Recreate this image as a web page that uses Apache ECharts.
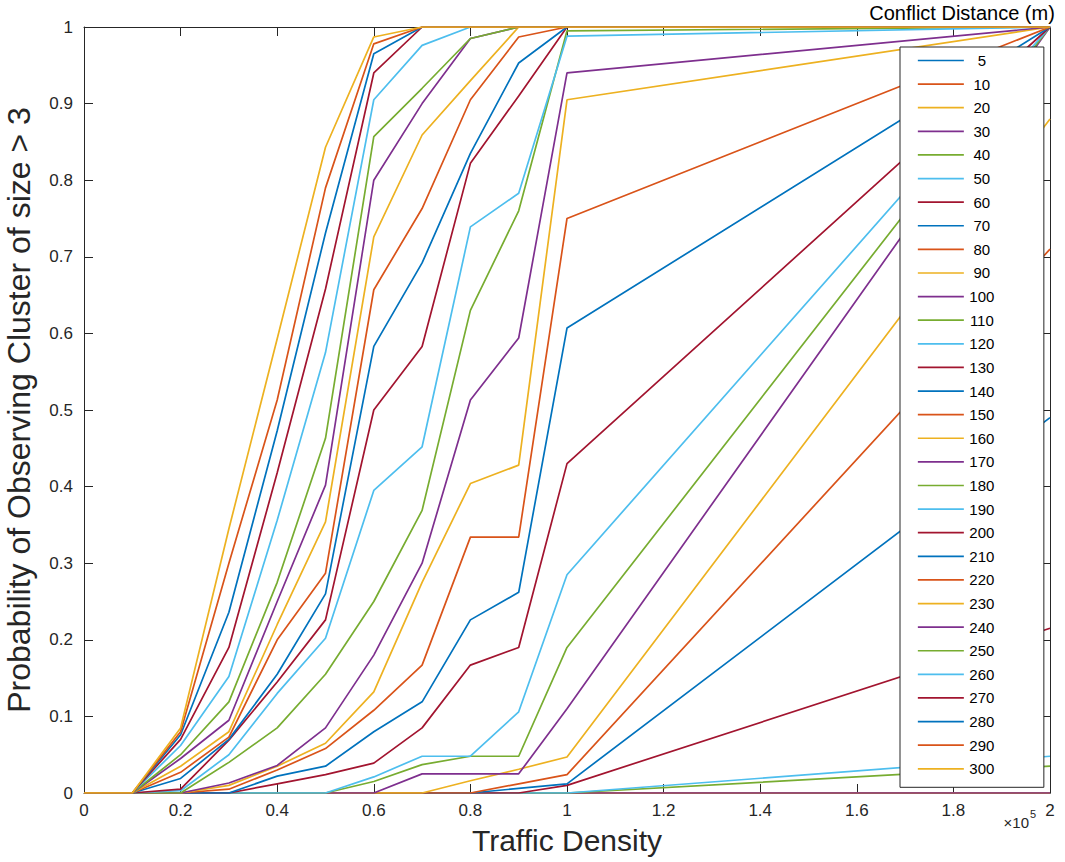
<!DOCTYPE html>
<html>
<head>
<meta charset="utf-8">
<script src="https://cdn.jsdelivr.net/npm/echarts@6/dist/echarts.min.js"></script>
<style>
  html, body { margin: 0; padding: 0; background: #fff; }
  #chart { width: 1065px; height: 862px; }
</style>
</head>
<body>
<div id="chart"></div>
<script>
// Traffic density sample points (in units of 1e5)
const trafficDensity = [0, 0.1, 0.2, 0.3, 0.4, 0.5, 0.6, 0.7, 0.8, 0.9, 1.0, 2.0];

// Conflict distances (m), one curve each
const conflictDistances = [5, 10, 20, 30, 40, 50, 60, 70, 80, 90, 100, 110, 120, 130, 140, 150,
  160, 170, 180, 190, 200, 210, 220, 230, 240, 250, 260, 270, 280, 290, 300];

// Probability of observing a cluster of size > 3, per conflict distance
const p5   = [0, 0, 0, 0, 0, 0, 0, 0, 0, 0, 0, 0];
const p10  = [0, 0, 0, 0, 0, 0, 0, 0, 0, 0, 0, 0];
const p20  = [0, 0, 0, 0, 0, 0, 0, 0, 0, 0, 0, 0];
const p30  = [0, 0, 0, 0, 0, 0, 0, 0, 0, 0, 0, 0];
const p40  = [0, 0, 0, 0, 0, 0, 0, 0, 0, 0, 0, 0.035];
const p50  = [0, 0, 0, 0, 0, 0, 0, 0, 0, 0, 0, 0.048];
const p60  = [0, 0, 0, 0, 0, 0, 0, 0, 0, 0, 0.01, 0.215];
const p70  = [0, 0, 0, 0, 0, 0, 0, 0, 0, 0.006, 0.012, 0.49];
const p80  = [0, 0, 0, 0, 0, 0, 0, 0, 0, 0.012, 0.024, 0.71];
const p90  = [0, 0, 0, 0, 0, 0, 0, 0, 0.016, 0.031, 0.047, 0.88];
const p100 = [0, 0, 0, 0, 0, 0, 0, 0.025, 0.025, 0.025, 0.11, 1];
const p110 = [0, 0, 0, 0, 0, 0, 0.015, 0.037, 0.048, 0.048, 0.19, 1];
const p120 = [0, 0, 0, 0, 0, 0, 0.021, 0.048, 0.048, 0.106, 0.285, 1];
const p130 = [0, 0, 0, 0, 0.012, 0.024, 0.039, 0.085, 0.167, 0.19, 0.43, 1];
const p140 = [0, 0, 0, 0, 0.022, 0.035, 0.08, 0.119, 0.226, 0.262, 0.607, 1];
const p150 = [0, 0, 0, 0.005, 0.03, 0.058, 0.108, 0.167, 0.334, 0.334, 0.75, 1];
const p160 = [0, 0, 0, 0.01, 0.035, 0.065, 0.132, 0.275, 0.404, 0.428, 0.905, 1];
const p170 = [0, 0, 0, 0.013, 0.036, 0.085, 0.18, 0.30, 0.513, 0.594, 0.94, 1];
const p180 = [0, 0, 0, 0.04, 0.085, 0.155, 0.25, 0.369, 0.63, 0.76, 0.995, 1];
const p190 = [0, 0, 0.003, 0.05, 0.13, 0.202, 0.395, 0.452, 0.739, 0.783, 0.988, 1];
const p200 = [0, 0, 0.005, 0.069, 0.145, 0.226, 0.5, 0.583, 0.822, 0.91, 1, 1];
const p210 = [0, 0, 0.019, 0.07, 0.155, 0.26, 0.583, 0.692, 0.835, 0.953, 1, 1];
const p220 = [0, 0, 0.027, 0.073, 0.2, 0.287, 0.657, 0.763, 0.905, 0.987, 1, 1];
const p230 = [0, 0, 0.035, 0.08, 0.22, 0.354, 0.726, 0.859, 0.93, 1, 1, 1];
const p240 = [0, 0, 0.045, 0.095, 0.25, 0.402, 0.80, 0.90, 0.985, 1, 1, 1];
const p250 = [0, 0, 0.05, 0.119, 0.275, 0.463, 0.857, 0.92, 0.985, 1, 1, 1];
const p260 = [0, 0, 0.062, 0.152, 0.356, 0.575, 0.905, 0.976, 1, 1, 1, 1];
const p270 = [0, 0, 0.07, 0.19, 0.418, 0.658, 0.94, 1, 1, 1, 1, 1];
const p280 = [0, 0, 0.076, 0.236, 0.473, 0.731, 0.965, 1, 1, 1, 1, 1];
const p290 = [0, 0, 0.08, 0.30, 0.513, 0.79, 0.978, 1, 1, 1, 1, 1];
const p300 = [0, 0, 0.085, 0.345, 0.593, 0.843, 0.987, 1, 1, 1, 1, 1];

const probabilities = [p5, p10, p20, p30, p40, p50, p60, p70, p80, p90, p100, p110, p120, p130,
  p140, p150, p160, p170, p180, p190, p200, p210, p220, p230, p240, p250, p260, p270, p280, p290, p300];

// Axis tick labels
const xTickLabels = ['0', '0.2', '0.4', '0.6', '0.8', '1', '1.2', '1.4', '1.6', '1.8', '2'];
const yTickLabels = ['0', '0.1', '0.2', '0.3', '0.4', '0.5', '0.6', '0.7', '0.8', '0.9', '1'];

// Default line colour order
const palette = ['#0072BD', '#D95319', '#EDB120', '#7E2F8E', '#77AC30', '#4DBEEE', '#A2142F'];

const axisColor = '#262626';
const fontFamily = '"Liberation Sans", Arial, sans-serif';

const series = conflictDistances.map((d, i) => ({
  name: String(d),
  type: 'line',
  data: trafficDensity.map((x, j) => [x, probabilities[i][j]]),
  symbol: 'none',
  showSymbol: false,
  color: palette[i % palette.length],
  lineStyle: { width: 1.7, color: palette[i % palette.length] },
  emphasis: { disabled: true },
  z: 2
}));

const boxAxis = (pos) => ({
  axisLine: { show: true, onZero: false, lineStyle: { color: axisColor, width: 1 } },
  axisTick: { show: true, inside: true, length: 9, lineStyle: { color: axisColor, width: 1 } },
  splitLine: { show: false },
  position: pos
});

const chart = echarts.init(document.getElementById('chart'), null, { renderer: 'svg' });
chart.setOption({
  animation: false,
  backgroundColor: '#fff',
  textStyle: { fontFamily },
  grid: { left: 84, right: 15, top: 27, bottom: 69, containLabel: false, outerBoundsMode: 'none' },
  xAxis: [
    Object.assign(boxAxis('bottom'), {
      type: 'value', min: 0, max: 2, interval: 0.2,
      axisLabel: {
        color: axisColor, fontSize: 17, margin: 9, fontFamily,
        formatter: (v) => xTickLabels[Math.round(v / 0.2)]
      },
      name: 'Traffic Density', nameLocation: 'middle', nameGap: 32,
      nameTextStyle: { fontSize: 30, color: axisColor, fontFamily }
    }),
    Object.assign(boxAxis('top'), {
      type: 'value', min: 0, max: 2, interval: 0.2, axisLabel: { show: false }
    })
  ],
  yAxis: [
    Object.assign(boxAxis('left'), {
      type: 'value', min: 0, max: 1, interval: 0.1,
      axisLabel: {
        color: axisColor, fontSize: 17, margin: 11, fontFamily,
        formatter: (v) => yTickLabels[Math.round(v / 0.1)]
      },
      name: 'Probability of Observing Cluster of size > 3', nameLocation: 'middle', nameGap: 49,
      nameRotate: 90,
      nameTextStyle: { fontSize: 32, color: axisColor, fontFamily }
    }),
    Object.assign(boxAxis('right'), {
      type: 'value', min: 0, max: 1, interval: 0.1, axisLabel: { show: false }
    })
  ],
  legend: {
    orient: 'vertical',
    left: 900, top: 47,
    padding: [6, 49, 11, 17],
    itemWidth: 46, itemHeight: 14, itemGap: 8.61,
    backgroundColor: '#fff',
    borderColor: axisColor, borderWidth: 1, borderRadius: 0,
    selectedMode: false,
    itemStyle: { opacity: 0 },
    lineStyle: { width: 1.7 },
    formatter: (name) => '{c|' + name + '}',
    textStyle: {
      fontFamily,
      rich: { c: { fontSize: 15, color: '#000', width: 26, align: 'center', lineHeight: 14, height: 14, fontFamily } }
    },
    data: conflictDistances.map(String),
    z: 10
  },
  graphic: [
    {
      type: 'text', x: 962, y: 13, z: 20,
      style: { text: 'Conflict Distance (m)', fill: '#000', fontSize: 20, fontFamily,
        textAlign: 'center', textVerticalAlign: 'middle' }
    },
    {
      type: 'text', x: 1029, y: 822, z: 20,
      style: { text: '×10', fill: axisColor, fontSize: 15, fontFamily,
        textAlign: 'right', textVerticalAlign: 'middle' }
    },
    {
      type: 'text', x: 1030, y: 814, z: 20,
      style: { text: '5', fill: axisColor, fontSize: 11, fontFamily,
        textAlign: 'left', textVerticalAlign: 'middle' }
    }
  ],
  series
});
</script>
</body>
</html>
